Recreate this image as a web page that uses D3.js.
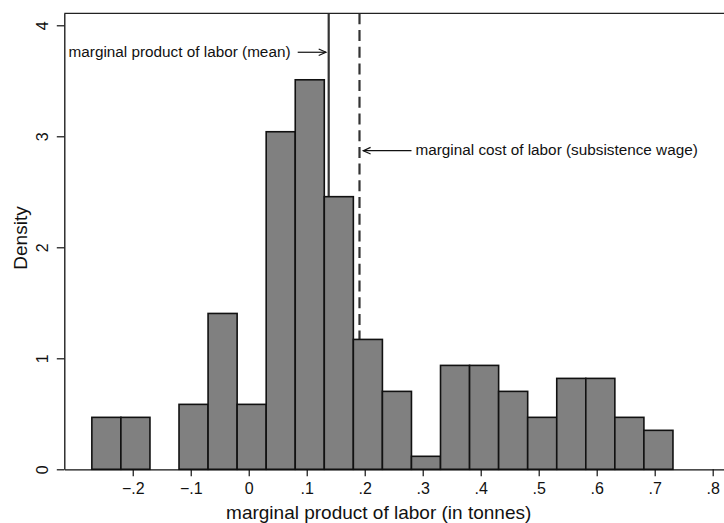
<!DOCTYPE html>
<html>
<head>
<meta charset="utf-8">
<script src="https://cdn.jsdelivr.net/npm/d3@7"></script>
<style>
  html, body { margin: 0; padding: 0; background: #fff; }
  svg { display: block; font-family: "Liberation Sans", Arial, Helvetica, sans-serif; }
</style>
</head>
<body>
<svg id="chart" width="724" height="523"></svg>
<script>
// ---- data ----
const binLeft = [-0.2705, -0.2204, -0.1703, -0.1202, -0.0701, -0.0200, 0.0301, 0.0802, 0.1303, 0.1804,
                 0.2305, 0.2806, 0.3307, 0.3808, 0.4309, 0.4810, 0.5311, 0.5812, 0.6313, 0.6814];
const binWidth = 0.0501;
const density = [0.468, 0.468, 0, 0.585, 1.404, 0.585, 3.041, 3.509, 2.456, 1.170,
                 0.702, 0.117, 0.936, 0.936, 0.702, 0.468, 0.819, 0.819, 0.468, 0.351];
const xTicks = [-0.2, -0.1, 0, 0.1, 0.2, 0.3, 0.4, 0.5, 0.6, 0.7, 0.8];
const yTicks = [0, 1, 2, 3, 4];
const meanMPL = 0.1379;          // marginal product of labor (mean)
const subsistenceWage = 0.1910;  // marginal cost of labor
const labelMean = "marginal product of labor (mean)";
const labelWage = "marginal cost of labor (subsistence wage)";
const labelMeanY = 3.757;
const labelWageY = 2.870;
const xTitle = "marginal product of labor (in tonnes)";
const yTitle = "Density";

// ---- layout ----
const svg = d3.select("#chart");
const mLeft = 64.3, mRight = 724, mTop = 13.3, mBottom = 469.3;
const x = d3.scaleLinear().domain([-0.318, 0.8195]).range([mLeft, mRight]);
const y = d3.scaleLinear().domain([0, 4.108]).range([mBottom, mTop]);

const fmt = v => v === 0 ? "0" : d3.format(".1f")(v).replace("0.", ".");

// reference lines (behind bars)
svg.append("line")
  .attr("x1", x(meanMPL)).attr("x2", x(meanMPL))
  .attr("y1", y(4.108)).attr("y2", y(0))
  .attr("stroke", "#333").attr("stroke-width", 2.2);
svg.append("line")
  .attr("x1", x(subsistenceWage)).attr("x2", x(subsistenceWage))
  .attr("y1", y(4.108)).attr("y2", y(0))
  .attr("stroke", "#333").attr("stroke-width", 2.2)
  .attr("stroke-dasharray", "11,5.7");

// bars
const bins = binLeft.map((b, i) => ({ x0: b, x1: b + binWidth, d: density[i] })).filter(b => b.d > 0);
svg.append("g").selectAll("rect").data(bins).join("rect")
  .attr("x", d => x(d.x0))
  .attr("width", d => x(d.x1) - x(d.x0))
  .attr("y", d => y(d.d))
  .attr("height", d => y(0) - y(d.d))
  .attr("fill", "#808080")
  .attr("stroke", "#111")
  .attr("stroke-width", 1.6);

// top frame line
svg.append("line")
  .attr("x1", mLeft).attr("x2", mRight)
  .attr("y1", mTop).attr("y2", mTop)
  .attr("stroke", "#222").attr("stroke-width", 1.3);

// x axis
const gx = svg.append("g").attr("transform", `translate(0,${mBottom})`)
  .call(d3.axisBottom(x).tickValues(xTicks).tickFormat(fmt).tickSize(7).tickPadding(6.3).tickSizeOuter(0));
gx.select(".domain").attr("stroke", "#111").attr("stroke-width", 1.3);
gx.selectAll(".tick line").attr("stroke", "#111").attr("stroke-width", 1.2);
gx.selectAll(".tick text").attr("font-size", "16px").attr("fill", "#111")
  .attr("font-family", "Liberation Sans, Arial, sans-serif");

// y axis
const gy = svg.append("g").attr("transform", `translate(${mLeft},0)`)
  .call(d3.axisLeft(y).tickValues(yTicks).tickFormat(d3.format("d")).tickSize(7.5).tickSizeOuter(0));
gy.select(".domain").attr("stroke", "#111").attr("stroke-width", 1.3);
gy.selectAll(".tick line").attr("stroke", "#111").attr("stroke-width", 1.2);
gy.selectAll(".tick text")
  .attr("font-size", "16px").attr("fill", "#111")
  .attr("font-family", "Liberation Sans, Arial, sans-serif")
  .attr("text-anchor", "middle")
  .attr("x", null).attr("dy", null)
  .attr("transform", "translate(-16.3,0) rotate(-90)");

// axis titles
svg.append("text")
  .attr("x", 378.7).attr("y", 519)
  .attr("text-anchor", "middle")
  .attr("font-size", "19px").attr("fill", "#111")
  .text(xTitle);
svg.append("text")
  .attr("transform", "translate(27,238) rotate(-90)")
  .attr("text-anchor", "middle")
  .attr("font-size", "19px").attr("fill", "#111")
  .text(yTitle);

// annotations with open arrows
function arrow(x1, x2, yy) {
  const dir = Math.sign(x2 - x1);
  svg.append("line").attr("x1", x1).attr("x2", x2).attr("y1", yy).attr("y2", yy)
    .attr("stroke", "#111").attr("stroke-width", 1.2);
  svg.append("path")
    .attr("d", `M${x2 - dir * 7.3},${yy - 3.3} L${x2},${yy} L${x2 - dir * 7.3},${yy + 3.3}`)
    .attr("fill", "none").attr("stroke", "#111").attr("stroke-width", 1.2);
}
const yMeanLab = y(labelMeanY);
arrow(x(meanMPL) - 31, x(meanMPL) - 2.7, yMeanLab);
svg.append("text")
  .attr("x", x(meanMPL) - 38.2).attr("y", yMeanLab + 4.3)
  .attr("text-anchor", "end")
  .attr("font-size", "15.3px").attr("fill", "#111")
  .text(labelMean);

const yWageLab = y(labelWageY);
arrow(x(subsistenceWage) + 52, x(subsistenceWage) + 3.8, yWageLab);
svg.append("text")
  .attr("x", x(subsistenceWage) + 56).attr("y", yWageLab + 4.3)
  .attr("text-anchor", "start")
  .attr("font-size", "15.3px").attr("fill", "#111")
  .text(labelWage);
</script>
</body>
</html>
